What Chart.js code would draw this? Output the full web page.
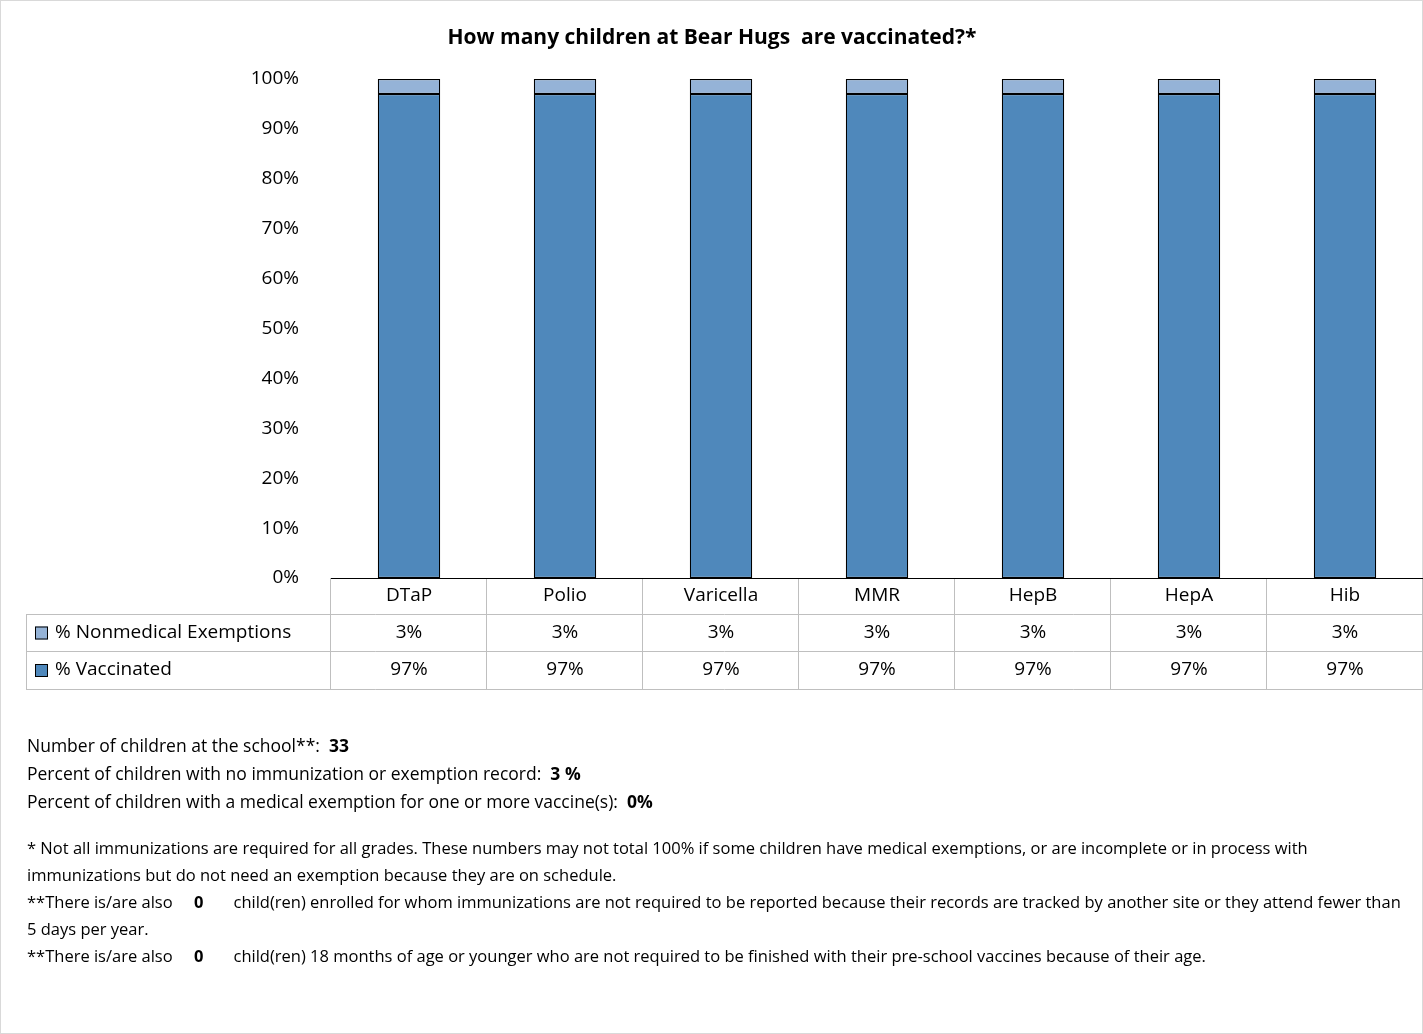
<!DOCTYPE html><html><head><meta charset="utf-8">
<script src="https://cdn.jsdelivr.net/npm/chart.js@4"></script>
<style>
body{margin:0;background:#fff;font-family:"Open Sans",Lato,sans-serif}
#wrap{position:absolute;left:0;top:0;width:1423px;height:1034px;box-sizing:border-box;border:1px solid #d9d9d9}
#notes{position:absolute;left:27px;top:731px;font-size:17.5px;color:#000;line-height:28px;width:1380px}
#notes p{margin:0}
#foot{position:absolute;left:27px;top:834px;font-size:16.5px;color:#000;line-height:27px;width:1385px}
</style></head><body>
<div id="wrap"><canvas id="c" width="1423" height="1034"></canvas></div>
<div id="notes">
<p>Number of children at the school**: &nbsp;<b>33</b></p>
<p>Percent of children with no immunization or exemption record: &nbsp;<b>3 %</b></p>
<p>Percent of children with a medical exemption for one or more vaccine(s): &nbsp;<b>0%</b></p>
</div>
<div id="foot">
* Not all immunizations are required for all grades. These numbers may not total 100% if some children have medical exemptions, or are incomplete or in process with immunizations but do not need an exemption because they are on schedule.<br>
**There is/are also &nbsp;&nbsp;&nbsp;&nbsp;<b>0</b> &nbsp;&nbsp;&nbsp;&nbsp;&nbsp;&nbsp;child(ren) enrolled for whom immunizations are not required to be reported because their records are tracked by another site or they attend fewer than 5 days per year.<br>
**There is/are also &nbsp;&nbsp;&nbsp;&nbsp;<b>0</b> &nbsp;&nbsp;&nbsp;&nbsp;&nbsp;&nbsp;child(ren) 18 months of age or younger who are not required to be finished with their pre-school vaccines because of their age.
</div>
<script>
const categories=["DTaP","Polio","Varicella","MMR","HepB","HepA","Hib"];
const vaccinated=[97,97,97,97,97,97,97];
const nonmedical=[3,3,3,3,3,3,3];
const yTicks=[0,10,20,30,40,50,60,70,80,90,100];
const TITLE="How many children at Bear Hugs  are vaccinated?*";
const C_VAC="#4F88BB",C_NON="#95B3D7";
const FONT="'Open Sans'";
const tablePlugin={id:"tbl",afterDraw(ch){
 const g=ch.ctx,x=ch.scales.x,a=ch.chartArea;
 const r0=a.bottom,r1=r0+36,r2=r1+37,r3=r2+38,L=25;
 g.save();
 g.fillStyle="#000";g.font="bold 21px "+FONT;g.textAlign="center";g.textBaseline="middle";
 g.fillText(TITLE,711,37);
 g.strokeStyle="#bfbfbf";g.lineWidth=1;
 const hl=(y,x0)=>{g.beginPath();g.moveTo(x0,y+.5);g.lineTo(a.right,y+.5);g.stroke();};
 hl(r1,L);hl(r2,L);hl(r3,L);
 const step=(a.right-a.left)/categories.length;
 for(let i=0;i<=categories.length;i++){const xx=Math.round(a.left+i*step)-.5;g.beginPath();g.moveTo(xx,r0);g.lineTo(xx,r3);g.stroke();}
 g.beginPath();g.moveTo(L+.5,r1);g.lineTo(L+.5,r3);g.stroke();
 g.strokeStyle="#000";g.beginPath();g.moveTo(a.left,r0+.5);g.lineTo(a.right,r0+.5);g.stroke();
 g.font="19px "+FONT;
 categories.forEach((c,i)=>{const cx=x.getPixelForValue(i);
  g.fillText(c,cx,(r0+r1)/2);g.fillText(nonmedical[i]+"%",cx,(r1+r2)/2);g.fillText(vaccinated[i]+"%",cx,(r2+r3)/2);});
 g.textAlign="left";
 [[C_NON,"% Nonmedical Exemptions",(r1+r2)/2],[C_VAC,"% Vaccinated",(r2+r3)/2]].forEach(([col,t,y])=>{
  g.fillStyle=col;g.fillRect(34,y-6,13,13);g.strokeStyle="#000";g.strokeRect(34.5,y-5.5,12,12);
  g.fillStyle="#000";g.fillText(t,54,y);});
 g.restore();}};
new Chart(document.getElementById("c"),{type:"bar",
 data:{labels:categories,datasets:[
  {label:"% Vaccinated",data:vaccinated,backgroundColor:C_VAC,borderColor:"#000",borderWidth:1.2,borderSkipped:false},
  {label:"% Nonmedical Exemptions",data:nonmedical,backgroundColor:C_NON,borderColor:"#000",borderWidth:1.2,borderSkipped:false}]},
 options:{responsive:false,animation:false,
  layout:{padding:{left:0,right:1,top:78,bottom:457}},
  datasets:{bar:{barPercentage:0.4,categoryPercentage:1}},
  plugins:{legend:{display:false},tooltip:{enabled:false},title:{display:false}},
  scales:{x:{stacked:true,display:false},
   y:{stacked:true,min:0,max:100,afterFit:s=>{s.width=330},afterBuildTicks:s=>{s.ticks=yTicks.map(v=>({value:v}))},
    grid:{display:false},border:{display:false},
    ticks:{padding:24,color:"#000",font:{family:"Open Sans",size:19},callback:v=>v+"%"}}}},
 plugins:[tablePlugin]});
</script></body></html>
